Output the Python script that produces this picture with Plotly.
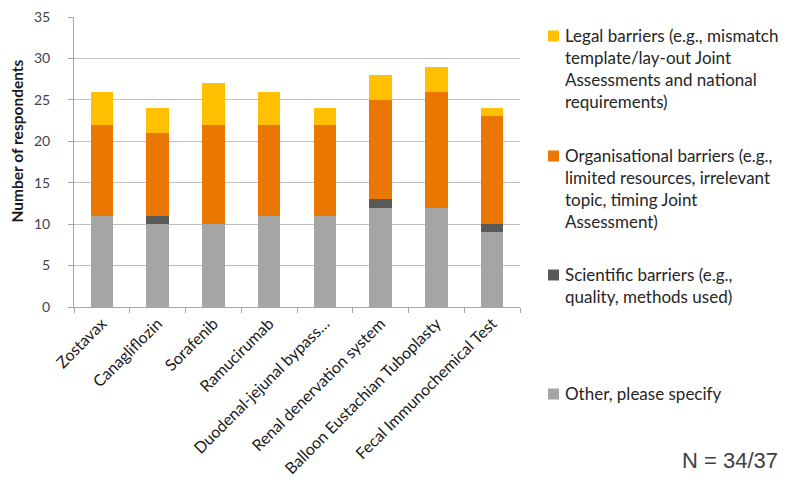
import plotly.graph_objects as go

categories = ["Zostavax", "Canagliflozin", "Sorafenib", "Ramucirumab",
              "Duodenal-jejunal bypass…", "Renal denervation system",
              "Balloon Eustachian Tuboplasty", "Fecal Immunochemical Test"]
other = [11, 10, 10, 11, 11, 12, 12, 9]
scientific = [0, 1, 0, 0, 0, 1, 0, 1]
organisational = [11, 10, 12, 11, 11, 12, 14, 13]
legal = [4, 3, 5, 4, 2, 3, 3, 1]

y_ticks = [0, 5, 10, 15, 20, 25, 30, 35]

legend_entries = [
    ("#FFC000", ["Legal barriers (e.g., mismatch", "template/lay-out Joint",
                 "Assessments and national", "requirements)"]),
    ("#EC7700", ["Organisational barriers (e.g.,", "limited resources, irrelevant",
                 "topic, timing Joint", "Assessment)"]),
    ("#595959", ["Scientific barriers (e.g.,", "quality, methods used)"]),
    ("#A5A5A5", ["Other, please specify"]),
]

series = [
    ("Other, please specify", other, "#A5A5A5"),
    ("Scientific barriers", scientific, "#595959"),
    ("Organisational barriers", organisational, "#EC7700"),
    ("Legal barriers", legal, "#FFC000"),
]

FONT = "Lato"
OFF = 8  # page body margin
W, H = 789 - 2 * OFF, 493 - 2 * OFF
# plot area in screenshot pixels
PL, PR, PT, PB = 74, 520, 17, 307
ml, mr, mt, mb = PL - OFF, W - (PR - OFF), PT - OFF, H - (PB - OFF)


def px(x):
    return (x - PL) / (PR - PL)


def py(y):
    return 1 - (y - PT) / (PB - PT)


fig = go.Figure()
for name, vals, col in series:
    fig.add_trace(go.Bar(x=categories, y=vals, name=name, marker_color=col,
                         marker_line_width=0, width=0.4, showlegend=False))

fig.update_layout(
    width=W, height=H, barmode="stack",
    margin=dict(l=ml, r=mr, t=mt, b=mb, autoexpand=False),
    paper_bgcolor="white", plot_bgcolor="white",
    font=dict(family=FONT, size=13, color="#262626"),
    xaxis=dict(showgrid=False, showline=True, linecolor="#A6A6A6", linewidth=1,
               ticks="outside", tickson="boundaries", ticklen=5, tickcolor="#A6A6A6",
               tickangle=-45, tickfont=dict(size=16, color="#1a1a1a", family=FONT),
               range=[-0.5, 7.5], automargin=False, ticklabeloverflow="allow"),
    yaxis=dict(range=[0, 35], tickvals=y_ticks, showgrid=True, gridcolor="#BFBFBF",
               gridwidth=1, showline=True, linecolor="#A6A6A6", linewidth=1,
               ticks="outside", ticklen=5, tickcolor="#A6A6A6",
               ticklabelstandoff=15, ticklabeloverflow="allow",
               tickfont=dict(size=14, color="#3F4350", family=FONT),
               zeroline=False, automargin=False),
)

# y-axis title (placed like the original, above the axis centre)
fig.add_annotation(text="<b>Number of respondents</b>", xref="paper", yref="paper",
                   x=px(16.5), y=py(141), textangle=-90, showarrow=False,
                   xanchor="center", yanchor="middle",
                   font=dict(size=15.5, color="#1a1a1a", family=FONT))

# Legend drawn manually to mimic the original spacing
entry_tops = [35, 155, 274, 393]  # screenshot y of first line centres
line_gap = 22.3
sq = 11
for (col, lines), y0 in zip(legend_entries, entry_tops):
    fig.add_shape(type="rect", xref="paper", yref="paper",
                  x0=px(548), x1=px(548 + sq),
                  y0=py(y0 + 1 + sq / 2), y1=py(y0 + 1 - sq / 2),
                  fillcolor=col, line_width=0)
    for i, t in enumerate(lines):
        yc = y0 + i * line_gap
        fig.add_annotation(text=t, xref="paper", yref="paper",
                           x=px(563), y=py(yc),
                           xanchor="left", yanchor="middle", showarrow=False,
                           font=dict(size=17, color="#262626", family=FONT))

fig.add_annotation(text="N = 34/37", xref="paper", yref="paper",
                   x=px(780), y=py(460),
                   xanchor="right", yanchor="middle", showarrow=False,
                   font=dict(size=22, color="#404040", family="Liberation Sans"))

fig.write_html("out.html")
